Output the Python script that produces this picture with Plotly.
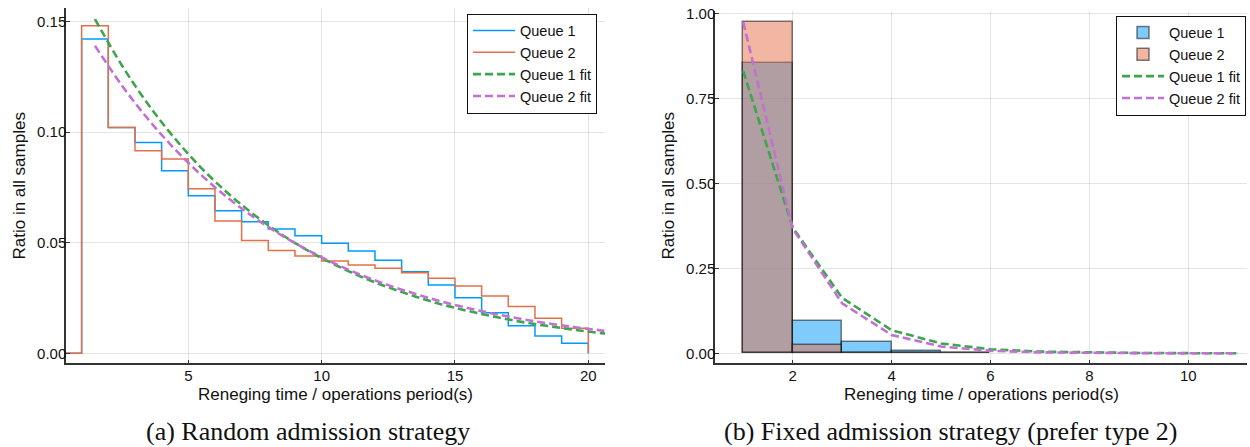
import plotly.graph_objects as go

# ---------------- data: (a) random admission strategy ----------------
edges_a = list(range(0, 21))  # bin left edges 0..20 (last point closes the step)
q1_random = [0.0, 0.142, 0.102, 0.0953, 0.0825, 0.0712, 0.0644, 0.0595, 0.0562, 0.0531,
             0.0497, 0.0462, 0.0420, 0.0369, 0.0309, 0.0251, 0.0183, 0.0125, 0.0078, 0.0045, 0.0]
q2_random = [0.0, 0.148, 0.102, 0.0915, 0.0878, 0.0744, 0.0598, 0.0510, 0.0465, 0.0440,
             0.0417, 0.0399, 0.0384, 0.0364, 0.0339, 0.0304, 0.0259, 0.0211, 0.0158, 0.0113, 0.0]
fit_x_a = [1.5, 2.5, 3.5, 4.5, 5.5, 6.5, 7.5, 8.5, 9.5, 10.5, 11.5, 12.5, 13.5, 14.5,
           15.5, 16.5, 17.5, 18.5, 19.5, 20.5, 21.0]
q1_fit_a = [0.1510, 0.1303, 0.1124, 0.0970, 0.0836, 0.0722, 0.0623, 0.0537, 0.0463, 0.0400,
            0.0345, 0.0298, 0.0257, 0.0221, 0.0191, 0.0165, 0.0142, 0.0123, 0.0106, 0.0091, 0.0085]
q2_fit_a = [0.1390, 0.1212, 0.1057, 0.0922, 0.0804, 0.0701, 0.0611, 0.0533, 0.0465, 0.0405,
            0.0353, 0.0308, 0.0269, 0.0234, 0.0204, 0.0178, 0.0155, 0.0135, 0.0118, 0.0103, 0.0096]

# ---------------- data: (b) fixed admission strategy ----------------
bins_b = [1.5, 2.5, 3.5, 4.5, 5.5]
q1_fixed = [0.855, 0.096, 0.034, 0.008, 0.002]
q2_fixed = [0.974, 0.023, 0.002, 0.001, 0.0005]
fit_x_b = [1, 2, 3, 4, 5, 6, 7, 8, 9, 10, 11]
q1_fit_b = [0.830, 0.370, 0.163, 0.068, 0.029, 0.012, 0.005, 0.002, 0.001, 0.0004, 0.0002]
q2_fit_b = [0.974, 0.367, 0.147, 0.054, 0.020, 0.0075, 0.0028, 0.001, 0.0004, 0.00015, 0.00006]

ticks_a_x = [5, 10, 15, 20]
ticks_a_y = [0.0, 0.05, 0.10, 0.15]
ticks_b_x = [2, 4, 6, 8, 10]
ticks_b_y = [0.0, 0.25, 0.50, 0.75, 1.00]

BLUE = "#009AFA"
ORANGE = "#E36F47"
GREEN = "#3EA44E"
PURPLE = "#C271D2"
SANS = "Liberation Sans, Arial, Helvetica, sans-serif"
SERIF = "Liberation Serif, Times New Roman, serif"

W, H = 1250, 447


def px_x(p):
    return p / W


def px_y(p):
    return 1 - p / H


fig = go.Figure()

# left panel
fig.add_trace(go.Scatter(x=edges_a, y=q1_random, mode="lines", line_shape="hv",
                         line=dict(color=BLUE, width=1.5), name="Queue 1",
                         xaxis="x", yaxis="y", legend="legend"))
fig.add_trace(go.Scatter(x=edges_a, y=q2_random, mode="lines", line_shape="hv",
                         line=dict(color=ORANGE, width=1.5), name="Queue 2",
                         xaxis="x", yaxis="y", legend="legend"))
fig.add_trace(go.Scatter(x=fit_x_a, y=q1_fit_a, mode="lines", line_shape="spline",
                         line=dict(color=GREEN, width=2.6, dash="8px,4px"), name="Queue 1 fit",
                         xaxis="x", yaxis="y", legend="legend"))
fig.add_trace(go.Scatter(x=fit_x_a, y=q2_fit_a, mode="lines", line_shape="spline",
                         line=dict(color=PURPLE, width=2.6, dash="8px,4px"), name="Queue 2 fit",
                         xaxis="x", yaxis="y", legend="legend"))

# right panel
fig.add_trace(go.Bar(x=bins_b, y=q1_fixed, width=1, name="Queue 1",
                     marker=dict(color="rgba(0,154,250,0.5)",
                                 line=dict(color="rgba(0,0,0,0.5)", width=1.5)),
                     xaxis="x2", yaxis="y2", legend="legend2"))
fig.add_trace(go.Bar(x=bins_b, y=q2_fixed, width=1, name="Queue 2",
                     marker=dict(color="rgba(227,111,71,0.5)",
                                 line=dict(color="rgba(0,0,0,0.5)", width=1.5)),
                     xaxis="x2", yaxis="y2", legend="legend2"))
fig.add_trace(go.Scatter(x=fit_x_b, y=q1_fit_b, mode="lines",
                         line=dict(color=GREEN, width=2.6, dash="8px,4px"), name="Queue 1 fit",
                         xaxis="x2", yaxis="y2", legend="legend2"))
fig.add_trace(go.Scatter(x=fit_x_b, y=q2_fit_b, mode="lines",
                         line=dict(color=PURPLE, width=2.6, dash="8px,4px"), name="Queue 2 fit",
                         xaxis="x2", yaxis="y2", legend="legend2"))

axis_common = dict(
    showline=True, linecolor="#333333", linewidth=1.5,
    ticks="inside", ticklen=4, tickcolor="#333333", tickwidth=1,
    showgrid=True, gridcolor="rgba(0,0,0,0.10)", gridwidth=1,
    zeroline=False, automargin=False,
    tickfont=dict(family=SANS, size=15, color="#111111"),
)

legend_common = dict(
    xanchor="left", yanchor="top",
    bgcolor="white", bordercolor="#111111", borderwidth=1,
    font=dict(family=SANS, size=14.5, color="#111111"), itemwidth=42,
    tracegroupgap=0,
)

fig.update_layout(
    width=W, height=H,
    margin=dict(l=0, r=0, t=0, b=0),
    paper_bgcolor="white", plot_bgcolor="white",
    barmode="overlay", bargap=0,
    font=dict(family=SANS, size=15, color="#111111"),
    xaxis=dict(axis_common, domain=[px_x(66), px_x(605)], range=[0.414, 20.626],
               tickvals=ticks_a_x, anchor="y", ticklabelstandoff=-2),
    yaxis=dict(axis_common, domain=[px_y(363.3), px_y(8.3)], range=[-0.00452, 0.1559],
               tickvals=ticks_a_y, tickformat=".2f", anchor="x", ticklabelstandoff=-5),
    xaxis2=dict(axis_common, domain=[px_x(715), px_x(1247)], range=[0.429, 11.187],
                tickvals=ticks_b_x, anchor="y2", ticklabelstandoff=-2),
    yaxis2=dict(axis_common, domain=[px_y(363.3), px_y(11)], range=[-0.0294, 1.0068],
                tickvals=ticks_b_y, tickformat=".2f", anchor="x2", ticklabelstandoff=-5),
    legend=dict(legend_common, x=px_x(467), y=px_y(13.5)),
    legend2=dict(legend_common, x=px_x(1116), y=px_y(15.5)),
    annotations=[
        dict(text="Ratio in all samples", x=px_x(18.5), y=px_y(186), xref="paper", yref="paper",
             textangle=-90, showarrow=False, xanchor="center", yanchor="middle",
             font=dict(family=SANS, size=17, color="#111111")),
        dict(text="Ratio in all samples", x=px_x(667.5), y=px_y(186), xref="paper", yref="paper",
             textangle=-90, showarrow=False, xanchor="center", yanchor="middle",
             font=dict(family=SANS, size=17, color="#111111")),
        dict(text="Reneging time / operations period(s)", x=px_x(335.5), y=px_y(394),
             xref="paper", yref="paper", showarrow=False, xanchor="center", yanchor="middle",
             font=dict(family=SANS, size=17, color="#111111")),
        dict(text="Reneging time / operations period(s)", x=px_x(981), y=px_y(394),
             xref="paper", yref="paper", showarrow=False, xanchor="center", yanchor="middle",
             font=dict(family=SANS, size=17, color="#111111")),
        dict(text="(a) Random admission strategy", x=px_x(308), y=0,
             xref="paper", yref="paper", showarrow=False, xanchor="center", yanchor="bottom",
             borderpad=0, font=dict(family=SERIF, size=26, color="#111111")),
        dict(text="(b) Fixed admission strategy (prefer type 2)", x=px_x(950.5), y=0,
             xref="paper", yref="paper", showarrow=False, xanchor="center", yanchor="bottom",
             borderpad=0, font=dict(family=SERIF, size=26, color="#111111")),
    ],
)

fig.write_html("out.html", config={"displayModeBar": False},
               post_script="document.body.style.margin='0';document.body.style.padding='0';document.body.style.overflow='hidden';")
